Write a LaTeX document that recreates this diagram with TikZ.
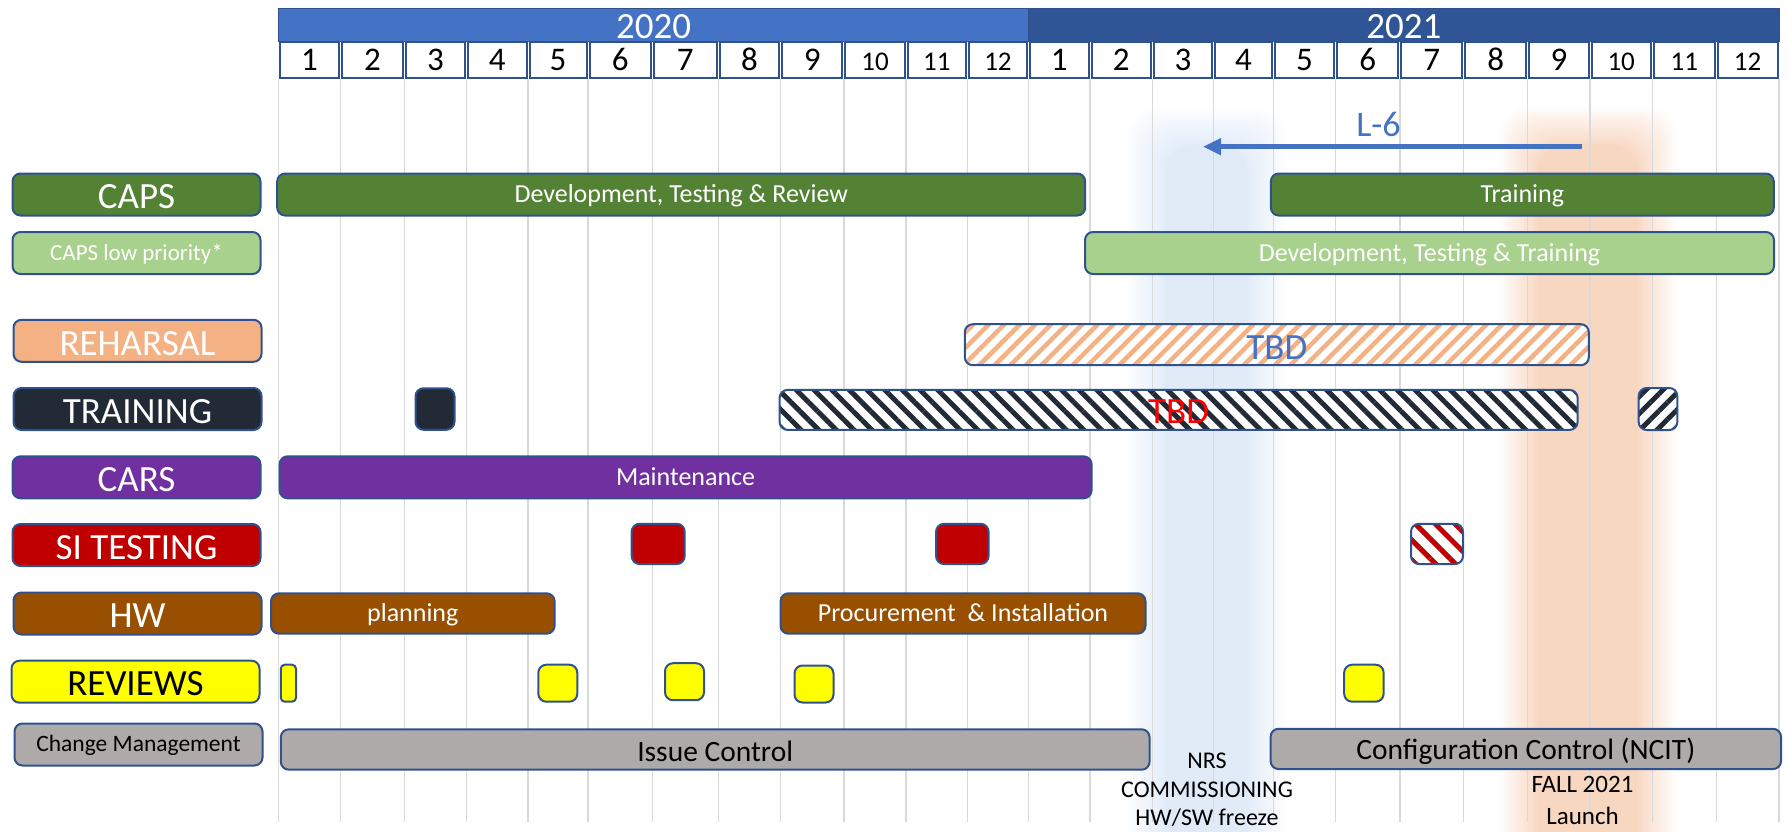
\documentclass[tikz,border=0pt]{standalone}
\usepackage{fontspec}
\setmainfont{Carlito}
\usetikzlibrary{patterns.meta,arrows.meta}
\definecolor{bord}{HTML}{2F528F}
\definecolor{y20}{HTML}{4472C4}
\definecolor{y21}{HTML}{2F5597}
\definecolor{gridc}{HTML}{D9D9D9}
\definecolor{capsg}{HTML}{548235}
\definecolor{capsl}{HTML}{A9D18E}
\definecolor{reh}{HTML}{F4B183}
\definecolor{trn}{HTML}{222A35}
\definecolor{cars}{HTML}{7030A0}
\definecolor{sit}{HTML}{C00000}
\definecolor{hwc}{HTML}{985000}
\definecolor{revc}{HTML}{FFFF00}
\definecolor{cmc}{HTML}{AEAAAA}
\definecolor{glowb}{RGB}{219,231,247}
\definecolor{glowo}{RGB}{247,206,180}
\definecolor{l6c}{HTML}{4472C4}
\tikzset{
  bx/.style={draw=bord, line width=2pt, rounded corners=8pt, inner sep=0pt, text=white},
  lab/.style={bx, minimum width=248pt, minimum height=42pt, font=\fontsize{37}{37}\selectfont, text height=28.4pt, text depth=0pt},
  bar/.style={bx, minimum height=42pt, font=\fontsize{26}{26}\selectfont, text height=16.4pt, text depth=0pt},
  gbar/.style={bar, fill=cmc, text=black, font=\fontsize{29.5}{29.5}\selectfont},
  chip/.style={bx},
  tbd/.style={font=\fontsize{37}{37}\selectfont, text depth=0pt},
  hatchA/.style n args={4}{preaction={fill=white}, pattern={Lines[angle=#1,distance=#2pt,line width=#3pt]}, pattern color=#4},
  mcell/.style={draw=bord, line width=2pt, fill=white, inner sep=0pt, minimum height=36pt, text height=21.4pt, text depth=0pt},
  ybar/.style={draw=bord, line width=1pt, inner sep=0pt, minimum height=33pt, text=white, font=\fontsize{37}{37}\selectfont, text height=27pt, text depth=0pt},
  gridl/.style={draw=gridc, line width=1.5pt},
  note/.style={align=center, text=black},
  glowlayer/.style={opacity=0.045, rounded corners=28pt},
}
\begin{document}
\begin{tikzpicture}[x=1pt,y=-1pt]
\useasboundingbox (0,0) rectangle (1788,831);
% glows
\begin{scope}
\clip (0,0) rectangle (1788,831);
\foreach \i in {0,...,39} {
  \pgfmathsetmacro{\o}{38*(\i/39)^2}
  \fill[glowb, glowlayer] ({1165-\o},{145-\o}) rectangle ({1248+\o},{860+\o});
  \fill[glowo, glowlayer] ({1538-\o},{145-\o}) rectangle ({1638+\o},{860+\o});
}
\end{scope}
% grid lines
\foreach \b in {278.6,340.6,404.5,466.5,528,588.2,652.4,718.3,780.6,843.8,906.2,967.4,1028.5,1090,1152.3,1213.5,1273.4,1335.4,1399.8,1463.6,1527.7,1590,1652.4,1716.3,1779}
  \draw[gridl] (\b,79) -- (\b,822);
% header
\node[ybar, fill=y20, minimum width=750pt] (y2020) at (653.6,24.5) {2020};
\node[ybar, fill=y21, minimum width=750.5pt] (y2021) at (1403.8,24.5) {2021};
\foreach \a/\b/\n [count=\k] in {278.6/340.6/1,340.6/404.5/2,404.5/466.5/3,466.5/528/4,528/588.2/5,588.2/652.4/6,652.4/718.3/7,718.3/780.6/8,780.6/843.8/9,843.8/906.2/10,906.2/967.4/11,967.4/1028.5/12,1028.5/1090/1,1090/1152.3/2,1152.3/1213.5/3,1213.5/1273.4/4,1273.4/1335.4/5,1335.4/1399.8/6,1399.8/1463.6/7,1463.6/1527.7/8,1527.7/1590/9,1590/1652.4/10,1652.4/1716.3/11,1716.3/1779/12} {
  \pgfmathsetmacro{\fs}{ifthenelse(\n>9,27,33)}
  \node[mcell, minimum width={\b-\a-3}, font=\fontsize{\fs}{\fs}\selectfont] (m\k) at ({(\a+\b)/2},60) {\n};
}
% left labels
\node[lab, fill=capsg] (lcaps) at (136.5,194.5) {CAPS};
\node[lab, fill=capsl, font=\fontsize{23}{23}\selectfont, text height=14.5pt] (lcapsl) at (136.5,253) {CAPS low priority*};
\node[lab, fill=reh] (lreh) at (137.5,340.8) {REHARSAL};
\node[lab, fill=trn] (ltrn) at (137.5,409) {TRAINING};
\node[lab, fill=cars] (lcars) at (136.5,477.3) {CARS};
\node[lab, fill=sit] (lsi) at (136.5,545) {SI TESTING};
\node[lab, fill=hwc] (lhw) at (137.5,613.5) {HW};
\node[lab, fill=revc, text=black] (lrev) at (135.5,681.7) {REVIEWS};
\node[lab, fill=cmc, text=black, font=\fontsize{23.5}{23.5}\selectfont, text height=14.9pt] (lcm) at (138.5,744.5) {Change Management};
% CAPS
\node[bar, fill=capsg, minimum width=808pt] (capsdev) at (681.2,194.5) {Development, Testing \& Review};
\node[bar, fill=capsg, minimum width=503pt] (capstr) at (1522.3,194.5) {Training};
\node[bar, fill=capsl, minimum width=689pt] (capslow) at (1429.5,253) {Development, Testing \& Training};
% rehearsal
\node[bx, hatchA={45}{11}{4.5}{reh}, minimum width=624pt, minimum height=41pt, tbd, text=l6c, text height=29pt] (rehtbd) at (1276.8,344.7) {TBD};
% training
\node[chip, fill=trn, minimum width=39pt, minimum height=41.5pt] (tr1) at (435,409) {};
\node[bx, hatchA={-45}{12.5}{5}{trn}, minimum width=798pt, minimum height=40pt, tbd, text=red, text height=26.4pt] (trtbd) at (1178.6,409.9) {TBD};
\node[chip, hatchA={45}{12}{5}{trn}, minimum width=38.6pt, minimum height=42pt] (tr2) at (1658,409) {};
% CARS
\node[bar, fill=cars, minimum width=812pt] (carsm) at (685.6,477.3) {Maintenance};
% SI testing
\node[chip, fill=sit, minimum width=53pt, minimum height=40.3pt] (si1) at (658.2,543.9) {};
\node[chip, fill=sit, minimum width=52.5pt, minimum height=40.3pt] (si2) at (962.3,543.9) {};
\node[chip, hatchA={-45}{14}{5}{sit}, minimum width=52pt, minimum height=40.3pt] (si3) at (1437,543.9) {};
% HW
\node[bar, fill=hwc, minimum width=283.6pt, minimum height=40.4pt] (hwplan) at (412.8,613.5) {planning};
\node[bar, fill=hwc, minimum width=365pt, minimum height=40.4pt] (hwproc) at (963,613.5) {Procurement~ \& Installation};
% reviews
\node[chip, fill=revc, rounded corners=4pt, minimum width=15.2pt, minimum height=37pt] (rev1) at (288.4,683.2) {};
\node[chip, fill=revc, minimum width=39pt, minimum height=37pt] (rev2) at (557.8,683.2) {};
\node[chip, fill=revc, minimum width=39pt, minimum height=37pt] (rev3) at (684.5,681.7) {};
\node[chip, fill=revc, minimum width=39pt, minimum height=37pt] (rev4) at (814,684) {};
\node[chip, fill=revc, minimum width=39.5pt, minimum height=37pt] (rev5) at (1363.9,683.2) {};
% change management
\node[gbar, minimum width=868.8pt, minimum height=40.4pt, text height=23.2pt] (issue) at (715.2,749.5) {Issue Control};
\node[gbar, minimum width=510.4pt, minimum height=40.3pt, text height=22pt] (config) at (1525.8,748.9) {Configuration Control (NCIT)};
% L-6 arrow
\coordinate (l6a) at (1582,146.7);
\coordinate (l6b) at (1203,146.7);
\draw[l6c, line width=5pt, -{Triangle[length=18pt,width=16pt]}] (l6a) -- (l6b);
\node[text=l6c, font=\fontsize{36}{36}\selectfont, text height=22.8pt, text depth=0pt, inner sep=0pt] (l6) at (1378.5,125) {L-6};
% notes
\node[note, font=\fontsize{24}{28.5}\selectfont] (nrs) at (1207,790) {NRS\\COMMISSIONING\\HW/SW freeze};
\node[note, font=\fontsize{25}{32}\selectfont] (fall) at (1582.5,800.5) {FALL 2021\\Launch};
\end{tikzpicture}
\end{document}
